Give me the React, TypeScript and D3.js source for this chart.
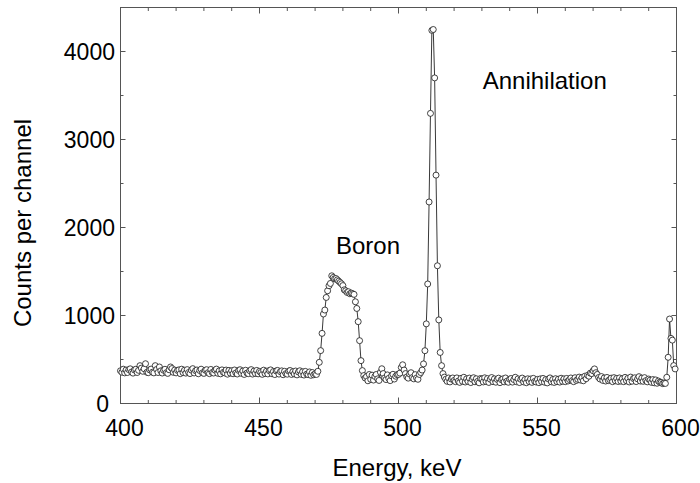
import React from "react";
import * as d3 from "d3";

// Channel calibration
const ENERGY_START = 400;
const ENERGY_STEP = 0.5;

// Counts per channel, 20 channels (10 keV) per row
const counts400 = [372, 355, 390, 348, 380, 352, 385, 394, 358, 345, 381, 389, 352, 377, 430, 402, 366, 395, 452, 355];
const counts410 = [350, 382, 391, 356, 348, 430, 387, 352, 415, 371, 346, 378, 389, 350, 342, 383, 415, 397, 354, 380];
const counts420 = [348, 376, 382, 339, 390, 351, 378, 345, 385, 352, 340, 379, 396, 347, 373, 381, 338, 375, 390, 349];
const counts430 = [342, 378, 384, 350, 339, 387, 352, 346, 379, 391, 343, 371, 337, 382, 354, 348, 380, 333, 376, 345];
const counts440 = [372, 338, 381, 347, 335, 376, 384, 342, 369, 330, 378, 346, 339, 373, 385, 334, 368, 341, 376, 337];
const counts450 = [365, 352, 331, 379, 340, 367, 336, 374, 382, 338, 363, 329, 370, 376, 334, 362, 371, 327, 366, 339];
const counts460 = [333, 368, 375, 330, 361, 336, 369, 325, 358, 372, 331, 360, 323, 365, 334, 328, 359, 320, 352, 326];
const counts470 = [338, 330, 366, 468, 601, 797, 1017, 1062, 1205, 1281, 1338, 1364, 1451, 1432, 1417, 1420, 1405, 1390, 1375, 1360];
const counts480 = [1340, 1292, 1281, 1262, 1270, 1247, 1255, 1247, 1240, 1156, 1080, 930, 714, 487, 374, 317, 290, 305, 258, 330];
const counts490 = [275, 322, 266, 308, 330, 280, 262, 355, 395, 340, 290, 272, 325, 286, 260, 315, 332, 278, 310, 328];
const counts500 = [330, 345, 410, 440, 380, 340, 302, 288, 335, 350, 295, 280, 328, 290, 275, 330, 352, 380, 450, 600];
const counts510 = [905, 1358, 2290, 3297, 4240, 4250, 3700, 2595, 1565, 950, 580, 430, 340, 300, 275, 252, 290, 245, 278, 290];
const counts520 = [262, 248, 291, 255, 240, 286, 253, 298, 244, 280, 251, 289, 238, 276, 293, 247, 281, 252, 235, 284];
const counts530 = [278, 245, 292, 250, 283, 239, 276, 295, 248, 280, 242, 274, 288, 237, 271, 279, 246, 290, 253, 241];
const counts540 = [276, 284, 243, 272, 298, 247, 280, 238, 275, 289, 245, 272, 236, 281, 249, 278, 240, 286, 251, 244];
const counts550 = [274, 237, 280, 248, 285, 242, 272, 234, 278, 291, 246, 273, 239, 282, 248, 276, 243, 287, 252, 280];
const counts560 = [248, 285, 256, 272, 290, 260, 248, 293, 262, 275, 300, 266, 294, 258, 310, 282, 320, 310, 345, 340];
const counts570 = [372, 393, 350, 330, 295, 278, 306, 262, 290, 255, 296, 260, 272, 288, 248, 294, 258, 285, 250, 291];
const counts580 = [254, 282, 248, 297, 258, 286, 245, 300, 253, 284, 292, 249, 280, 305, 255, 288, 252, 294, 260, 246];
const counts590 = [278, 265, 240, 272, 235, 268, 230, 255, 242, 240, 226, 232, 228, 298, 525, 960, 740, 720, 431, 393];

const counts = [
  ...counts400, ...counts410, ...counts420, ...counts430, ...counts440,
  ...counts450, ...counts460, ...counts470, ...counts480, ...counts490,
  ...counts500, ...counts510, ...counts520, ...counts530, ...counts540,
  ...counts550, ...counts560, ...counts570, ...counts580, ...counts590,
];

const xMajorTicks = [400, 450, 500, 550, 600];
const yMajorTicks = [0, 1000, 2000, 3000, 4000];
const xDomain = [400, 600];
const yDomain = [0, 4500];

const annotations = [
  { text: "Boron", energy: 477.5, value: 1695 },
  { text: "Annihilation", energy: 530.3, value: 3575 },
];

export default function App() {
  const W = 700, H = 483;
  const left = 120.5, right = 676.5, top = 7.5, bottom = 403.5;
  const x = d3.scaleLinear().domain(xDomain).range([left, right]);
  const y = d3.scaleLinear().domain(yDomain).range([bottom, top]);

  const pts = counts.map((c, i) => ({ e: ENERGY_START + i * ENERGY_STEP, c }));
  const line = d3.line<{ e: number; c: number }>().x(d => x(d.e)).y(d => y(d.c));

  const xMinor = d3.range(xDomain[0], xDomain[1] + 0.001, 10);
  const yMinor = d3.range(yDomain[0], yDomain[1] + 0.001, 500);
  const font = "Arial, 'Liberation Sans', Helvetica, sans-serif";
  const axisColor = "#555";

  return (
    <svg width={W} height={H} style={{ position: "absolute", left: 0, top: 0, background: "#fff" }}>
      <rect x={0} y={0} width={W} height={H} fill="#fff" />
      {/* frame */}
      <rect x={left} y={top} width={right - left} height={bottom - top} fill="none" stroke={axisColor} strokeWidth={1} />
      {/* ticks */}
      {xMinor.map(v => {
        const major = v % 50 === 0;
        const len = major ? 6 : 3.5;
        return (
          <g key={"xt" + v}>
            <line x1={x(v)} x2={x(v)} y1={bottom} y2={bottom - len} stroke={axisColor} strokeWidth={1} />
            <line x1={x(v)} x2={x(v)} y1={top} y2={top + len} stroke={axisColor} strokeWidth={1} />
          </g>
        );
      })}
      {yMinor.map(v => {
        const major = v % 1000 === 0;
        const len = major ? 5 : 3;
        return (
          <g key={"yt" + v}>
            <line x1={left} x2={left + len} y1={y(v)} y2={y(v)} stroke={axisColor} strokeWidth={1} />
            <line x1={right} x2={right - len} y1={y(v)} y2={y(v)} stroke={axisColor} strokeWidth={1} />
          </g>
        );
      })}
      {/* tick labels */}
      {xMajorTicks.map(v => (
        <text key={"xl" + v} x={x(v) + 4} y={436} textAnchor="middle" fontFamily={font} fontSize={23} fill="#000">
          {v}
        </text>
      ))}
      {yMajorTicks.map(v => (
        <text key={"yl" + v} x={v === 0 ? 109 : 115} y={y(v) + 8} textAnchor="end" fontFamily={font} fontSize={23} fill="#000">
          {v}
        </text>
      ))}
      {/* axis titles */}
      <text x={397} y={476} textAnchor="middle" fontFamily={font} fontSize={24} fill="#000">Energy, keV</text>
      <text transform="translate(31,223) rotate(-90)" textAnchor="middle" fontFamily={font} fontSize={24} fill="#000">Counts per channel</text>
      {/* data */}
      <path d={line(pts) || ""} fill="none" stroke="#222" strokeWidth={0.9} />
      {pts.map((d, i) => (
        <circle key={i} cx={x(d.e)} cy={y(d.c)} r={3} fill="#fff" stroke="#222" strokeWidth={0.85} />
      ))}
      {/* annotations */}
      {annotations.map(a => (
        <text key={a.text} x={x(a.energy)} y={y(a.value)} textAnchor="start" fontFamily={font} fontSize={24} fill="#000">
          {a.text}
        </text>
      ))}
    </svg>
  );
}
